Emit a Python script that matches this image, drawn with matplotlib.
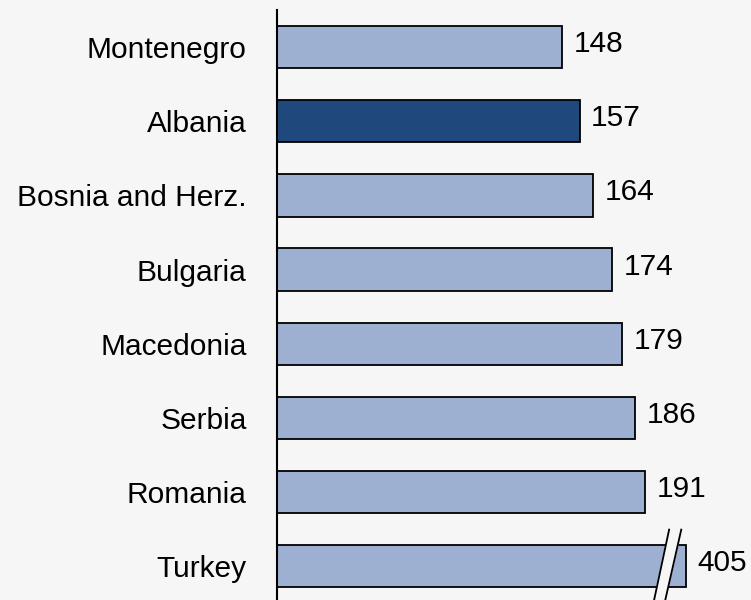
import matplotlib.pyplot as plt

countries = ['Montenegro', 'Albania', 'Bosnia and Herz.', 'Bulgaria',
             'Macedonia', 'Serbia', 'Romania', 'Turkey']
values = [148, 157, 164, 174, 179, 186, 191, 405]
highlight = 'Albania'

# Turkey is drawn with a broken (shortened) bar
cap = 212

bg = '#f6f6f6'
light = '#9db0d1'
dark = '#1f497d'

plt.rcParams['font.family'] = ['Liberation Sans', 'DejaVu Sans']
fs = 21.5

fig = plt.figure(figsize=(7.51, 6.0), dpi=100, facecolor=bg)
ax = fig.add_axes([0.369, 0.0, 0.631, 0.983])
ax.set_facecolor(bg)

shown = [min(v, cap) for v in values]
colors = [dark if c == highlight else light for c in countries]
ypos = list(range(len(countries)))
ax.barh(ypos, shown, height=0.57, color=colors, edgecolor='black', linewidth=1.3, zorder=2)

for y, v, s in zip(ypos, values, shown):
    ax.text(s + 6, y - 0.04, str(v), va='center', ha='left', fontsize=fs)

# break mark on the Turkey bar
ty = ypos[-1]
x1t, x1b, x2t, x2b = 203.5, 195.7, 209.8, 201.5
yt, yb = ty - 0.49, ty + 0.46
ax.fill([x1t, x2t, x2b, x1b], [yt, yt, yb, yb], color=bg, zorder=3)
ax.plot([x1t, x1b], [yt, yb], color='black', lw=1.3, zorder=4, clip_on=False)
ax.plot([x2t, x2b], [yt, yb], color='black', lw=1.3, zorder=4, clip_on=False)

ax.set_xlim(0, 246)
ax.set_ylim(len(countries) - 0.54, -0.5)
ax.set_yticks(ypos)
ax.set_yticklabels(countries, fontsize=fs)
ax.tick_params(axis='y', length=0, pad=22)
ax.set_xticks([])
for side in ['top', 'right', 'bottom']:
    ax.spines[side].set_visible(False)
ax.spines['left'].set_linewidth(1.5)

fig.savefig('out.png', dpi=100, facecolor=bg)
